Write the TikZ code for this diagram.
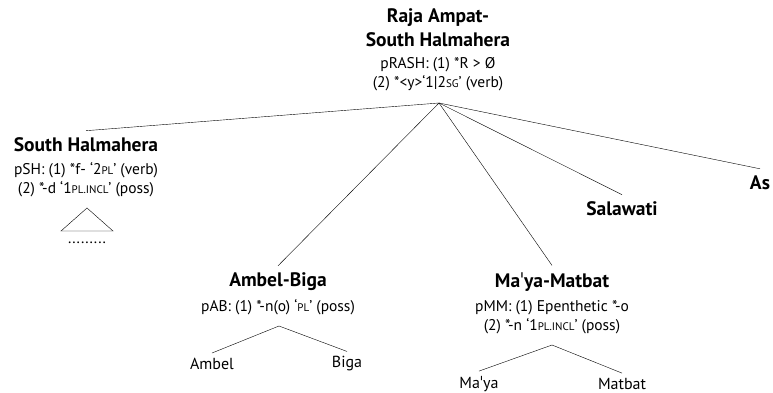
\documentclass[tikz,border=0pt]{standalone}
\usepackage{fontspec}
\setmainfont{PT Sans}
\newfontfamily\ipafont{DejaVu Sans}
\newcommand{\glabbr}[1]{{\fontsize{11}{11}\selectfont\MakeUppercase{#1}}}
\newcommand{\stressmark}{\hbox to 0.2em{\hss\ipafont\mdseries ˈ\hss}}

\begin{document}
\begin{tikzpicture}[x=1pt,y=-1pt,
  every node/.style={inner sep=0pt},
  group/.style={font=\fontsize{19.5}{24}\selectfont\bfseries, align=center, inner sep=7pt},
  info/.style={font=\fontsize{15.5}{19}\selectfont, align=center},
  lang/.style={font=\fontsize{16}{18}\selectfont, inner sep=5pt}]
  \useasboundingbox (0,0) rectangle (773,393);
  % root
  \node[group] (rash) at (438,27.5) {Raja Ampat-\\South Halmahera};
  \node[info] (rashinfo) at (438,74.5) {pRASH: (1) *R > Ø\\(2) *<y>‘1|2\glabbr{sg}’ (verb)};
  \coordinate (top) at (439,103);
  % daughters
  \node[group] (sh) at (86,145) {South Halmahera};
  \node[info] (shinfo) at (86,179.5) {pSH: (1) *f- ‘2\glabbr{pl}’ (verb)\\(2) *-d ‘1\glabbr{pl.incl}’ (poss)};
  \node[group] (ab) at (278,282) {Ambel-Biga};
  \node[info] (abinfo) at (278,307) {pAB: (1) *-n(o) ‘\glabbr{pl}’ (poss)};
  \node[group] (mm) at (552,282) {Ma\stressmark ya-Matbat};
  \node[info] (mminfo) at (552,317.5) {pMM: (1) Epenthetic *-o\\(2) *-n ‘1\glabbr{pl.incl}’ (poss)};
  \node[group] (sal) at (622,209) {Salawati};
  \node[group] (as) at (760,183) {As};
  \draw (top) -- (sh.north);
  \draw (top) -- (ab.north);
  \draw (top) -- (mm.north);
  \draw (top) -- (sal.north);
  \draw (top) -- (as.north);
  % South Halmahera subgroups
  \coordinate (shtop) at (87,208);
  \draw (shtop) -- ++(-26,23) -- ++(52,0) -- cycle;
  \node[font=\fontsize{15.5}{16}\selectfont] (shdots) at (87,243) {.........};
  % Ambel-Biga
  \coordinate (abtop) at (279,326);
  \node[lang] (ambel) at (212,364) {Ambel};
  \node[lang] (biga) at (347,364) {Biga};
  \draw (ambel.north) -- (abtop) -- (biga.north);
  % Ma'ya-Matbat
  \coordinate (mmtop) at (552,345);
  \node[lang] (maya) at (479,384) {Ma\stressmark ya};
  \node[lang] (matbat) at (622,384) {Matbat};
  \draw (maya.north) -- (mmtop) -- (matbat.north);
\end{tikzpicture}
\end{document}
